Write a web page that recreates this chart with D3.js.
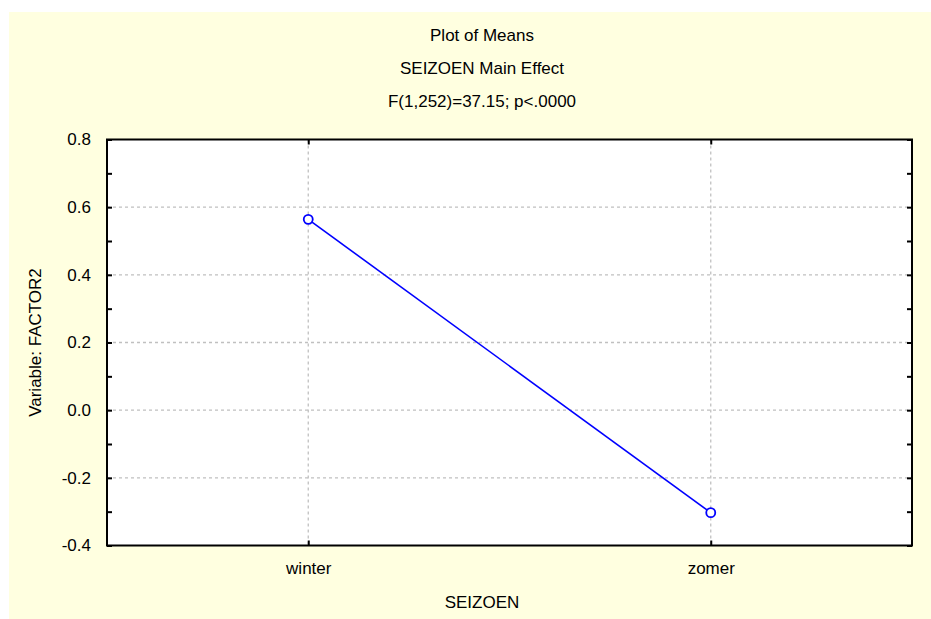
<!DOCTYPE html>
<html>
<head>
<meta charset="utf-8">
<script src="https://cdn.jsdelivr.net/npm/d3@7"></script>
<style>
    body { margin: 0; background: #ffffff; }
    text { font-family: "Liberation Sans", Arial, sans-serif; fill: #000; }
</style>
</head>
<body>
<svg id="chart" width="931" height="619"></svg>
<script>
// plot of means data
const categories = ['winter', 'zomer'];
const means = [0.564, -0.303];

const titleLines = ['Plot of Means', 'SEIZOEN Main Effect', 'F(1,252)=37.15; p<.0000'];
const xLabel = 'SEIZOEN';
const yLabel = 'Variable: FACTOR2';

// major ticks (labelled, with grid) and minor ticks
const yMajorTicks = [-0.4, -0.2, 0.0, 0.2, 0.4, 0.6, 0.8];
const yTickLabels = ['-0.4', '-0.2', '0.0', '0.2', '0.4', '0.6', '0.8'];
const yMinorTicks = [-0.3, -0.1, 0.1, 0.3, 0.5, 0.7];

const svg = d3.select('#chart');

// page background
svg.append('rect')
    .attr('x', 9).attr('y', 12)
    .attr('width', 931 - 9).attr('height', 619 - 12)
    .attr('fill', '#ffffe0');

const plotLeft = 107, plotRight = 912, plotTop = 139.5, plotBottom = 545.5;
const width = plotRight - plotLeft;
const height = plotBottom - plotTop;

const xScale = d3.scalePoint()
    .domain(categories)
    .range([plotLeft, plotRight])
    .padding(0.5);

const yScale = d3.scaleLinear()
    .domain([-0.4, 0.8])
    .range([plotBottom, plotTop]);

// plot area
svg.append('rect')
    .attr('x', plotLeft).attr('y', plotTop)
    .attr('width', width).attr('height', height)
    .attr('fill', '#ffffff');

// grid lines
const grid = svg.append('g')
    .attr('stroke', '#c0c0c0')
    .attr('stroke-width', 1.3)
    .attr('stroke-dasharray', '3,3');

grid.selectAll('.hgrid')
    .data(yMajorTicks.filter((v) => v > -0.4 && v < 0.8))
    .enter()
    .append('line')
    .attr('x1', plotLeft).attr('x2', plotRight)
    .attr('y1', (v) => yScale(v)).attr('y2', (v) => yScale(v));

grid.selectAll('.vgrid')
    .data(categories)
    .enter()
    .append('line')
    .attr('x1', (c) => xScale(c)).attr('x2', (c) => xScale(c))
    .attr('y1', plotTop).attr('y2', plotBottom);

// axes, ticks pointing inwards
const allY = yMajorTicks.concat(yMinorTicks);
const labelFor = (v) => {
    const i = yMajorTicks.findIndex((m) => Math.abs(m - v) < 1e-9);
    return i >= 0 ? yTickLabels[i] : '';
};

function styleAxis(g) {
    g.select('.domain').remove();
    g.selectAll('.tick line').attr('stroke', '#000').attr('stroke-width', 2);
    g.selectAll('.tick text')
        .style('font-family', '"Liberation Sans", Arial, sans-serif')
        .style('font-size', '17px')
        .attr('fill', '#000');
}

svg.append('g')
    .attr('transform', `translate(${plotLeft},0)`)
    .call(d3.axisLeft(yScale).tickValues(allY).tickFormat(labelFor)
        .tickSizeInner(-5).tickSizeOuter(0).tickPadding(16))
    .call(styleAxis);

svg.append('g')
    .attr('transform', `translate(${plotRight},0)`)
    .call(d3.axisRight(yScale).tickValues(allY).tickFormat('')
        .tickSizeInner(-5).tickSizeOuter(0))
    .call(styleAxis);

svg.append('g')
    .attr('transform', `translate(0,${plotBottom})`)
    .call(d3.axisBottom(xScale).tickSizeInner(-5).tickSizeOuter(0).tickPadding(16))
    .call(styleAxis);

svg.append('g')
    .attr('transform', `translate(0,${plotTop})`)
    .call(d3.axisTop(xScale).tickFormat('').tickSizeInner(-5).tickSizeOuter(0))
    .call(styleAxis);

// frame
svg.append('rect')
    .attr('x', plotLeft).attr('y', plotTop)
    .attr('width', width).attr('height', height)
    .attr('fill', 'none')
    .attr('stroke', '#000')
    .attr('stroke-width', 2);

// means line
const points = categories.map((c, i) => ({label: c, value: means[i]}));

svg.append('path')
    .datum(points)
    .attr('fill', 'none')
    .attr('stroke', '#0000ff')
    .attr('stroke-width', 1.6)
    .attr('d', d3.line().x((d) => xScale(d.label)).y((d) => yScale(d.value)));

svg.selectAll('.marker')
    .data(points)
    .enter()
    .append('circle')
    .attr('cx', (d) => xScale(d.label))
    .attr('cy', (d) => yScale(d.value))
    .attr('r', 4.5)
    .attr('fill', '#ffffff')
    .attr('stroke', '#0000ff')
    .attr('stroke-width', 1.8);

// titles
const centerX = 482;
svg.selectAll('.title')
    .data(titleLines)
    .enter()
    .append('text')
    .attr('x', centerX)
    .attr('y', (d, i) => 40.5 + i * 33.3)
    .attr('text-anchor', 'middle')
    .style('font-size', '17px')
    .text((d) => d);

svg.append('text')
    .attr('x', centerX)
    .attr('y', 608)
    .attr('text-anchor', 'middle')
    .style('font-size', '17px')
    .text(xLabel);

svg.append('text')
    .attr('transform', `translate(41, ${(plotTop + plotBottom) / 2}) rotate(-90)`)
    .attr('text-anchor', 'middle')
    .style('font-size', '17px')
    .text(yLabel);
</script>
</body>
</html>
